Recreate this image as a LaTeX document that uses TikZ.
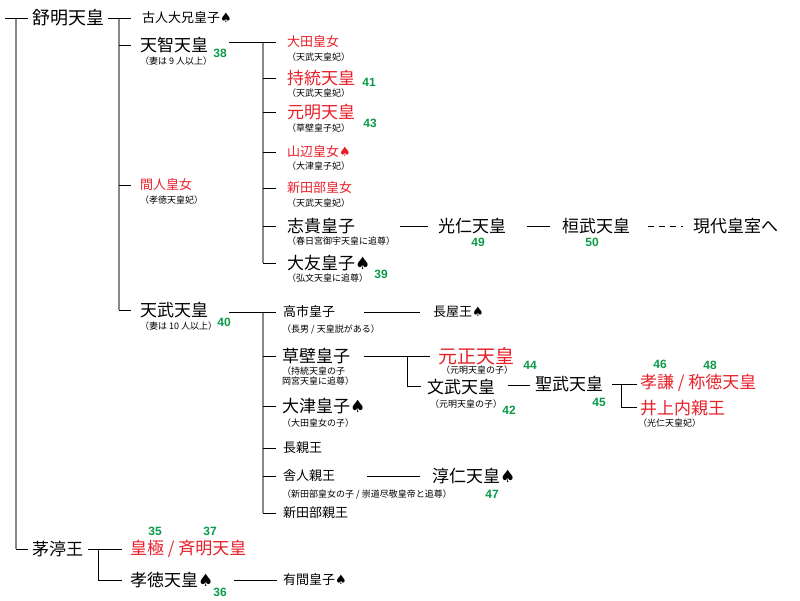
\documentclass[tikz,border=0pt]{standalone}
\usepackage{fontspec}
\setmainfont{Noto Sans CJK JP}
\newfontfamily\symf{DejaVu Sans}
\newfontfamily\numf{Liberation Sans}
\newcommand{\spd}{{\symf ♠}}
\definecolor{jred}{HTML}{E8202A}
\definecolor{jgreen}{HTML}{0A9A48}
\definecolor{jgray}{HTML}{888888}
\begin{document}
\begin{tikzpicture}[x=1pt,y=-1pt,
  big/.style={anchor=west,inner sep=0pt,font=\fontsize{17}{17}\selectfont},
  mid/.style={anchor=west,inner sep=0pt,font=\fontsize{13}{13}\selectfont},
  sub/.style={anchor=west,inner sep=0pt,font=\fontsize{9}{10}\selectfont,align=left},
  num/.style={inner sep=0pt,font=\fontsize{12}{12}\numf\bfseries,text=jgreen},
  ln/.style={line width=0.8pt},
  vl/.style={line width=2.2pt,jgray}]
\useasboundingbox (0,0) rectangle (800,600);
% trunk
\coordinate (t0) at (5,18); \coordinate (t1) at (28,18);
\coordinate (tA) at (16,18); \coordinate (tB) at (16,549); \coordinate (tC) at (28,549);
\draw[vl] (tA) -- (tB);
\draw[ln] (t0) -- (t1); \draw[ln] (tB) -- (tC);
\node[big,font=\fontsize{18}{18}\selectfont] (jomei) at (32,18) {舒明天皇};
\node[big] (chinu) at (32,549) {茅渟王};
% jomei children
\coordinate (jA) at (119,18); \coordinate (jB) at (119,310);
\draw[vl] (jA) -- (jB);
\node[mid] (furu) at (142,18) {古人大兄皇子\spd};
\node[big] (tenji) at (140,45) {天智天皇};
\node[sub] at (140,61) {（妻は 9 人以上）};
\node[num] at (220,53) {38};
\node[mid,text=jred] (hashi) at (140,185) {間人皇女};
\node[sub] at (140,200) {（孝徳天皇妃）};
\node[big] (tenmu) at (140,310) {天武天皇};
\node[sub] at (140,326) {（妻は 10 人以上）};
\node[num] at (224,322) {40};
\draw[ln] (108,18) -- (131,18);
\foreach \y in {45,185,310} \draw[ln] (119,\y) -- (131,\y);
% tenji children
\coordinate (kA) at (263,42); \coordinate (kB) at (263,263);
\draw[vl] (kA) -- (kB);
\draw[ln] (229,42) -- (276,42);
\foreach \y in {78,112,152,188,226,263} \draw[ln] (263,\y) -- (276,\y);
\node[mid,text=jred] (ota) at (287,42) {大田皇女};
\node[sub] at (287,57) {（天武天皇妃）};
\node[big,text=jred] (jito) at (287,78) {持統天皇};
\node[sub] at (287,93) {（天武天皇妃）};
\node[num] at (369,82) {41};
\node[big,text=jred] (genmei) at (287,112) {元明天皇};
\node[sub] at (287,128) {（草壁皇子妃）};
\node[num] at (370,123) {43};
\node[mid,text=jred] (yama) at (287,152) {山辺皇女{\color{jred}\spd}};
\node[sub] at (287,166) {（大津皇子妃）};
\node[mid,text=jred] (nii) at (287,188) {新田部皇女};
\node[sub] at (287,203) {（天武天皇妃）};
\node[big] (shiki) at (287,226) {志貴皇子};
\node[sub] at (287,241) {（春日宮御宇天皇に追尊）};
\node[big] (konin) at (438,226) {光仁天皇};
\node[num] at (478,242) {49};
\node[big] (kanmu) at (562,226) {桓武天皇};
\node[num] at (592,242) {50};
\node[big] (gendai) at (693,226) {現代皇室へ};
\draw[ln] (400,226) -- (428,226);
\draw[ln] (527,226) -- (550,226);
\draw[ln,dash pattern=on 6pt off 5pt] (648,226) -- (683,226);
\node[big] (otomo) at (287,263) {大友皇子\spd};
\node[sub] at (287,278) {（弘文天皇に追尊）};
\node[num] at (381,274) {39};
% tenmu children
\coordinate (mA) at (263,312); \coordinate (mB) at (263,513);
\draw[vl] (mA) -- (mB);
\draw[ln] (229,312) -- (276,312);
\foreach \y in {356,406,448,476,513} \draw[ln] (263,\y) -- (276,\y);
\node[mid] (takechi) at (283,312) {高市皇子};
\node[sub] at (282,329) {（長男 / 天皇説がある）};
\draw[ln] (364,312) -- (420,312);
\node[mid] (nagaya) at (433,312) {長屋王\spd};
\node[big] (kusa) at (282,356) {草壁皇子};
\node[sub,font=\fontsize{9}{10}\selectfont] at (282,376) {（持統天皇の子\\岡宮天皇に追尊）};
\draw[ln] (364,356) -- (430,356);
\draw[ln] (407,356) -- (407,386) -- (421,386);
\node[big,font=\fontsize{19}{19}\selectfont,text=jred] (gensho) at (438,356) {元正天皇};
\node[sub] at (441,370) {（元明天皇の子）};
\node[num] at (530,365) {44};
\node[big] (monmu) at (427,387) {文武天皇};
\node[sub] at (430,404) {（元明天皇の子）};
\node[num] at (509,410) {42};
\draw[ln] (508,385) -- (530,385);
\node[big] (shomu) at (535,384) {聖武天皇};
\node[num] at (599,402) {45};
\draw[ln] (612,384) -- (637,384);
\draw[ln] (621,384) -- (621,407) -- (637,407);
\node[big,text=jred] (koken) at (640,383) {孝謙 / 称徳天皇};
\node[num] at (660,364) {46};
\node[num] at (710,365) {48};
\node[big,text=jred] (inoue) at (640,408) {井上内親王};
\node[sub] at (638,423) {（光仁天皇妃）};
\node[big] (otsu) at (282,406) {大津皇子\spd};
\node[sub] at (282,423) {（大田皇女の子）};
\node[mid] (naga) at (283,448) {長親王};
\node[mid] (toneri) at (283,476) {舎人親王};
\node[sub] at (282,494) {（新田部皇女の子 / 崇道尽敬皇帝と追尊）};
\draw[ln] (367,476) -- (420,476);
\node[big] (junnin) at (432,476) {淳仁天皇\spd};
\node[num] at (492,494) {47};
\node[mid] (niitabe) at (283,513) {新田部親王};
% chinu children
\draw[ln] (88,549) -- (122,549);
\draw[ln] (98,549) -- (98,580) -- (122,580);
\node[big,text=jred] (kogyoku) at (130,549) {皇極 / 斉明天皇};
\node[num] at (155,531) {35};
\node[num] at (210,531) {37};
\node[big] (kotoku) at (130,580) {孝徳天皇\spd};
\node[num] at (220,592) {36};
\draw[ln] (234,580) -- (277,580);
\node[mid] (arima) at (283,580) {有間皇子\spd};
\end{tikzpicture}
\end{document}
